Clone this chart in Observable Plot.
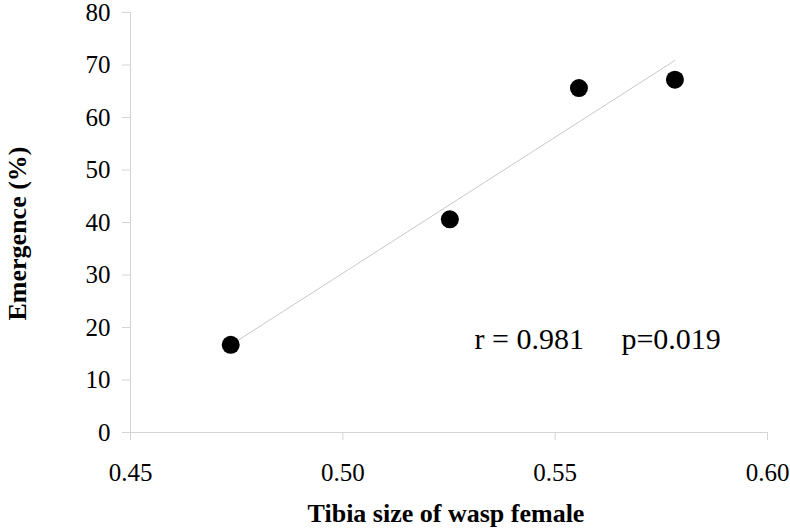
<!DOCTYPE html>
<html>
<head>
<meta charset="utf-8">
<script src="https://cdn.jsdelivr.net/npm/d3@7"></script>
<script src="https://cdn.jsdelivr.net/npm/@observablehq/plot@0.6"></script>
<style>
  html, body { margin: 0; padding: 0; background: #fff; }
  #chart svg { display: block; }
  #chart svg, #chart svg text { font-family: 'Liberation Serif', 'Times New Roman', serif !important; }
</style>
</head>
<body>
<div id="chart"></div>
<script>
const tibiaSize = [0.4736, 0.5252, 0.5556, 0.5782];
const emergence = [16.7, 40.6, 65.6, 67.2];
const xTicks = [0.45, 0.50, 0.55, 0.60];
const yTicks = [0, 10, 20, 30, 40, 50, 60, 70, 80];
const xTitle = "Tibia size of wasp female";
const yTitle = "Emergence (%)";
const statsText = ["r = 0.981", "p=0.019"];
const statsPos = { x: 0.531, y: 17.8 };

const data = tibiaSize.map((x, i) => ({ x, y: emergence[i] }));
const font = "'Liberation Serif', 'Times New Roman', serif";

const chart = Plot.plot({
  width: 790,
  height: 528,
  marginLeft: 130,
  marginRight: 23,
  marginTop: 12,
  marginBottom: 96,
  style: { fontFamily: font, background: "#fff", color: "#000" },
  x: { domain: [0.45, 0.60] },
  y: { domain: [0, 80] },
  marks: [
    Plot.ruleY([0], { stroke: "#d4d4d4", x1: 0.45, x2: 0.60 }),
    Plot.ruleX([0.45], { stroke: "#d4d4d4", y1: 0, y2: 80 }),
    Plot.axisX({ ticks: xTicks, tickFormat: d3.format(".2f"), tickSize: 8, tickPadding: 23,
      fontSize: 25, fontFamily: font, stroke: "#d4d4d4", fill: "#000", label: null }),
    Plot.axisY({ ticks: yTicks, tickFormat: d3.format("d"), tickSize: 8, tickPadding: 12,
      fontSize: 25, fontFamily: font, stroke: "#d4d4d4", fill: "#000", label: null }),
    Plot.linearRegressionY(data, { x: "x", y: "y", stroke: "#c8c8c8", strokeWidth: 1, ci: 0 }),
    Plot.dot(data, { x: "x", y: "y", r: 9, fill: "#000", stroke: "none" }),
    Plot.text([statsText.join("\u00a0\u00a0\u00a0\u00a0\u00a0")], {
      x: () => statsPos.x, y: () => statsPos.y, textAnchor: "start", lineAnchor: "middle",
      fontSize: 30, fontFamily: font, fill: "#000" }),
    Plot.text([xTitle], { frameAnchor: "bottom", dy: 81, dx: -3, fontSize: 26,
      textAnchor: "middle", lineAnchor: "middle", fontFamily: font,
      fontWeight: "bold", fill: "#000" }),
    Plot.text([yTitle], { frameAnchor: "left", dx: -113, dy: 11, rotate: -90, fontSize: 26,
      textAnchor: "middle", lineAnchor: "middle", fontFamily: font,
      fontWeight: "bold", fill: "#000" })
  ]
});
document.getElementById("chart").appendChild(chart);
</script>
</body>
</html>
